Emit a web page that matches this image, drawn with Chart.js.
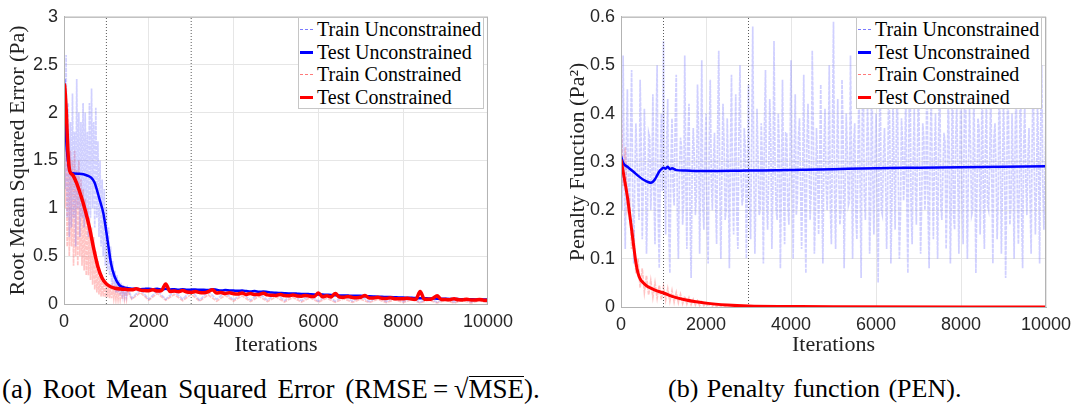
<!DOCTYPE html>
<html>
<head>
<meta charset="utf-8">
<script src="https://cdn.jsdelivr.net/npm/chart.js@4.4.1/dist/chart.umd.min.js"></script>
<style>
    body { margin: 0; background: #fff; width: 1080px; height: 414px; position: relative; overflow: hidden;
           font-family: "Liberation Serif", "DejaVu Serif", serif; color: #000; }
    canvas { position: absolute; top: 0; }
    #rmse_chart { left: 0; }
    #pen_chart { left: 540px; }
    .legend { position: absolute; top: 17px; width: 186px; box-sizing: border-box; border: 1px solid #c6c6c6;
              background: #fff; font-size: 20px; }
    .legend div { position: relative; height: 22.5px; line-height: 22.5px; padding-left: 18px; white-space: nowrap; }
    .legend i { position: absolute; left: 1px; width: 13px; }
    .legend i.train { top: 11px; border-top: 1px dashed; }
    .legend i.test { top: 10px; border-top: 3px solid; }
    .caption { position: absolute; top: 376px; font-size: 26px; line-height: 26px; white-space: nowrap; word-spacing: 2px; }
    .root { border-top: 1px solid #000; display: inline-block; line-height: 22px; padding-top: 1px; }
</style>
</head>
<body>
<canvas id="rmse_chart" width="520" height="360"></canvas>
<canvas id="pen_chart" width="540" height="360"></canvas>

<div class="legend" style="left: 298px">
    <div><i class="train" style="border-color: #7a7aff"></i>Train Unconstrained</div>
    <div><i class="test" style="border-color: #0000ff"></i>Test Unconstrained</div>
    <div><i class="train" style="border-color: #ff7a7a"></i>Train Constrained</div>
    <div><i class="test" style="border-color: #ff0000"></i>Test Constrained</div>
</div>
<div class="legend" style="left: 856px">
    <div><i class="train" style="border-color: #7a7aff"></i>Train Unconstrained</div>
    <div><i class="test" style="border-color: #0000ff"></i>Test Unconstrained</div>
    <div><i class="train" style="border-color: #ff7a7a"></i>Train Constrained</div>
    <div><i class="test" style="border-color: #ff0000"></i>Test Constrained</div>
</div>

<div class="caption" style="left: 2px; font-size: 27px; word-spacing: 4px">(a) Root Mean Squared Error (RMSE&#8201;=&#8201;√<span class="root">MSE</span>).</div>
<div class="caption" style="left: 668px">(b) Penalty function (PEN).</div>

<script>
// shared axis ticks
const iterTicks = [0, 2000, 4000, 6000, 8000, 10000];
const markerIters = [1000, 3000];
const rmseYTicks = [0, 0.5, 1, 1.5, 2, 2.5, 3];
const penYTicks = [0, 0.1, 0.2, 0.3, 0.4, 0.5, 0.6];

// (a) RMSE - train curves, every 25 iterations up to 1500 then every 200 from 1600
const rmseTrainUnconEarly = [
    2.9, 1.2, 2.6, 0.9, 2.1, 0.7, 1.9, 0.8, 2.2, 0.9, 1.8, 0.6, 2.35, 1.0, 2.0, 0.7, 1.9, 0.9, 2.1, 0.8,
    2.0, 1.0, 1.8, 0.7, 2.1, 0.9, 2.25, 1.0, 1.9, 0.8, 2.05, 0.9, 1.7, 0.7, 1.5, 0.6, 1.3, 0.5, 1.2, 0.4,
    1.0, 0.35, 0.8, 0.3, 0.6, 0.2, 0.45, 0.15, 0.35, 0.12, 0.3, 0.12, 0.25, 0.1, 0.22, 0.1, 0.2, 0.09, 0.18, 0.09,
    0.17,
];
const rmseTrainUnconLate = [
    0.06, 0.15, 0.05, 0.14, 0.05, 0.13, 0.05, 0.14, 0.04, 0.13, 0.05, 0.12, 0.04, 0.12, 0.04, 0.11, 0.04, 0.11, 0.035, 0.1,
    0.035, 0.095, 0.03, 0.09, 0.03, 0.085, 0.03, 0.08, 0.025, 0.075, 0.025, 0.07, 0.025, 0.065, 0.02, 0.06, 0.02, 0.06, 0.02, 0.055,
    0.02, 0.05, 0.02,
];
const rmseTrainConEarly = [
    2.4, 1.0, 1.9, 0.6, 1.7, 0.5, 1.6, 0.6, 1.5, 0.4, 1.6, 0.5, 1.4, 0.4, 1.5, 0.5, 1.3, 0.4, 1.2, 0.35,
    1.1, 0.3, 1.0, 0.3, 0.9, 0.25, 0.8, 0.2, 0.7, 0.15, 0.55, 0.12, 0.45, 0.1, 0.35, 0.08, 0.3, 0.08, 0.25, 0.07,
    0.22, 0.07, 0.2, 0.06, 0.18, 0.06, 0.17, 0.06, 0.16, 0.05, 0.15, 0.05, 0.15, 0.05, 0.14, 0.05, 0.14, 0.05, 0.13, 0.05,
    0.13,
];
const rmseTrainConLate = [
    0.05, 0.12, 0.04, 0.11, 0.04, 0.1, 0.035, 0.1, 0.03, 0.095, 0.03, 0.09, 0.03, 0.085, 0.025, 0.08, 0.025, 0.075, 0.02, 0.07,
    0.02, 0.065, 0.02, 0.06, 0.018, 0.055, 0.018, 0.05, 0.015, 0.05, 0.015, 0.045, 0.015, 0.045, 0.012, 0.04, 0.012, 0.04, 0.01, 0.038,
    0.01, 0.035, 0.01,
];

// (a) RMSE - test curves, knots up to 1400 then every 100 from 1500
const rmseTestUnconIters = [0, 16, 55, 110, 170, 370, 560, 640, 720, 834, 927, 1030, 1110, 1190, 1300, 1400];
const rmseTestUnconHead = [2.35, 2.1, 1.69, 1.44, 1.37, 1.36, 1.34, 1.32, 1.27, 1.1, 0.95, 0.66, 0.42, 0.29, 0.2, 0.175];
const rmseTestUnconTail = [
    0.165, 0.16, 0.16, 0.155, 0.158, 0.16,
    0.155, 0.16, 0.15, 0.158, 0.152, 0.155, 0.15, 0.155, 0.148, 0.15,
    0.152, 0.148, 0.15, 0.145, 0.155, 0.148, 0.14, 0.145, 0.142, 0.14,
    0.138, 0.14, 0.135, 0.13, 0.135, 0.128, 0.13, 0.125, 0.12, 0.118,
    0.115, 0.112, 0.11, 0.11, 0.108, 0.105, 0.105, 0.102, 0.1, 0.1,
    0.098, 0.096, 0.095, 0.092, 0.09, 0.09, 0.088, 0.086, 0.085, 0.085,
    0.082, 0.08, 0.078, 0.076, 0.075, 0.073, 0.072, 0.07, 0.068, 0.067,
    0.065, 0.064, 0.062, 0.061, 0.06, 0.058, 0.057, 0.056, 0.055, 0.054,
    0.053, 0.052, 0.051, 0.05, 0.05, 0.049, 0.048, 0.048, 0.047, 0.047,
];
const rmseTestConIters = [0, 15, 55, 95, 135, 200, 300, 400, 500, 600, 700, 800, 900, 1000, 1100, 1200, 1400];
const rmseTestConHead = [2.3, 2.28, 2.0, 1.58, 1.39, 1.35, 1.26, 1.13, 0.98, 0.8, 0.58, 0.39, 0.27, 0.21, 0.18, 0.165, 0.155];
const rmseTestConTail = [
    0.15, 0.148, 0.16, 0.145, 0.14, 0.138, 0.15, 0.135, 0.14, 0.21, 0.13, 0.135, 0.128, 0.14, 0.125, 0.122,
    0.13, 0.12, 0.118, 0.128, 0.15, 0.115, 0.12, 0.11, 0.118, 0.108,
    0.105, 0.115, 0.1, 0.11, 0.098, 0.1, 0.112, 0.095, 0.092, 0.09,
    0.1, 0.088, 0.085, 0.095, 0.083, 0.082, 0.09, 0.08, 0.078, 0.115,
    0.076, 0.085, 0.074, 0.11, 0.072, 0.07, 0.078, 0.068, 0.066, 0.07,
    0.09, 0.063, 0.062, 0.07, 0.06, 0.058, 0.065, 0.056, 0.055, 0.054,
    0.06, 0.052, 0.05, 0.13, 0.05, 0.049, 0.06, 0.085, 0.047, 0.046,
    0.045, 0.055, 0.044, 0.043, 0.05, 0.042, 0.041, 0.048, 0.04, 0.04,
];

// (b) PEN - train unconstrained, every 50 iterations, plus the samples in between
const penTrainUncon = [
    0.31, 0.52, 0.12, 0.45, 0.18, 0.49, 0.09, 0.38, 0.22, 0.47, 0.14, 0.41, 0.11, 0.36, 0.2, 0.44, 0.13, 0.5, 0.08, 0.4,
    0.55, 0.15, 0.43, 0.07, 0.39, 0.21, 0.48, 0.1, 0.35, 0.17, 0.52, 0.12, 0.42, 0.06, 0.37, 0.19, 0.46, 0.11, 0.51, 0.16,
    0.4, 0.09, 0.47, 0.2, 0.36, 0.13, 0.53, 0.1, 0.42, 0.18, 0.39, 0.08, 0.48, 0.15, 0.44, 0.12, 0.5, 0.21, 0.37, 0.1,
    0.46, 0.14, 0.58, 0.11, 0.41, 0.19, 0.38, 0.09, 0.49, 0.16, 0.43, 0.12, 0.55, 0.2, 0.4, 0.08, 0.47, 0.13, 0.36, 0.17,
    0.51, 0.1, 0.44, 0.22, 0.39, 0.12, 0.48, 0.07, 0.42, 0.18, 0.53, 0.11, 0.37, 0.15, 0.46, 0.09, 0.41, 0.2, 0.5, 0.13,
    0.59, 0.12, 0.43, 0.17, 0.47, 0.08, 0.4, 0.21, 0.52, 0.1, 0.38, 0.14, 0.45, 0.06, 0.49, 0.18, 0.42, 0.11, 0.54, 0.15,
    0.4, 0.05, 0.46, 0.19, 0.37, 0.12, 0.5, 0.09, 0.43, 0.16, 0.48, 0.1, 0.39, 0.22, 0.45, 0.07, 0.52, 0.13, 0.41, 0.17,
    0.47, 0.11, 0.38, 0.2, 0.51, 0.08, 0.44, 0.14, 0.4, 0.1, 0.49, 0.18, 0.36, 0.12, 0.46, 0.09, 0.53, 0.16, 0.42, 0.11,
    0.48, 0.13, 0.57, 0.1, 0.41, 0.19, 0.45, 0.07, 0.39, 0.15, 0.5, 0.12, 0.43, 0.2, 0.47, 0.09, 0.38, 0.14, 0.52, 0.11,
    0.44, 0.06, 0.49, 0.17, 0.4, 0.1, 0.46, 0.13, 0.54, 0.08, 0.42, 0.19, 0.37, 0.11, 0.48, 0.15, 0.43, 0.09, 0.5, 0.16,
    0.4,
];
const penTrainUnconMid = [
    0.2, 0.28, 0.33, 0.24, 0.36, 0.22, 0.27, 0.31, 0.18, 0.34, 0.25, 0.29, 0.21, 0.35, 0.26, 0.23, 0.37, 0.19, 0.3, 0.24,
    0.27, 0.34, 0.16, 0.3, 0.25, 0.38, 0.2, 0.28, 0.33, 0.22, 0.26, 0.35, 0.19, 0.29, 0.31, 0.23, 0.36, 0.27, 0.21, 0.32,
    0.18, 0.33, 0.26, 0.3, 0.22, 0.37, 0.24, 0.29, 0.34, 0.2, 0.28, 0.32, 0.25, 0.31, 0.19, 0.36, 0.27, 0.23, 0.33, 0.26,
    0.21, 0.35, 0.28, 0.24, 0.31, 0.2, 0.3, 0.37, 0.22, 0.27, 0.34, 0.25, 0.29, 0.18, 0.33, 0.26, 0.24, 0.36, 0.21, 0.3,
    0.28, 0.32, 0.19, 0.35, 0.25, 0.27, 0.22, 0.34, 0.3, 0.24, 0.37, 0.2, 0.29, 0.31, 0.23, 0.33, 0.26, 0.28, 0.21, 0.35,
    0.24, 0.3, 0.27, 0.2, 0.36, 0.25, 0.32, 0.22, 0.29, 0.34, 0.19, 0.31, 0.26, 0.38, 0.23, 0.28, 0.33, 0.21, 0.27, 0.3,
    0.25, 0.35, 0.2, 0.31, 0.27, 0.24, 0.36, 0.22, 0.29, 0.33, 0.26, 0.19, 0.34, 0.28, 0.23, 0.37, 0.21, 0.3, 0.25, 0.32,
    0.29, 0.22, 0.35, 0.26, 0.2, 0.33, 0.27, 0.31, 0.24, 0.36, 0.21, 0.28, 0.34, 0.23, 0.3, 0.25, 0.19, 0.35, 0.27, 0.32,
    0.22, 0.36, 0.26, 0.29, 0.33, 0.2, 0.31, 0.24, 0.37, 0.27, 0.23, 0.34, 0.21, 0.3, 0.26, 0.35, 0.28, 0.22, 0.32, 0.25,
    0.3, 0.24, 0.34, 0.21, 0.29, 0.36, 0.23, 0.27, 0.2, 0.33, 0.26, 0.31, 0.22, 0.35, 0.28, 0.24, 0.3, 0.37, 0.25, 0.27,
];
// (b) PEN - train constrained, every 50 iterations up to 2500
const penTrainCon = [
    0.42, 0.25, 0.33, 0.2, 0.22, 0.12, 0.16, 0.07, 0.1, 0.04, 0.08, 0.03, 0.065, 0.025, 0.055, 0.02, 0.05, 0.018, 0.045, 0.015,
    0.042, 0.014, 0.038, 0.012, 0.034, 0.01, 0.03, 0.009, 0.026, 0.007, 0.022, 0.006, 0.019, 0.005, 0.016, 0.004, 0.013, 0.003, 0.011, 0.003,
    0.009, 0.002, 0.007, 0.002, 0.006, 0.001, 0.005, 0.001, 0.004, 0.001, 0.003,
];
const penTestUnconIters = [0, 50, 150, 300, 450, 550, 650, 700, 750, 800, 850, 900, 950, 1000, 1050, 1100, 1150, 1200,
    1300, 1500, 2000, 3000, 4000, 5000, 6000, 7000, 8000, 9000, 10000];
const penTestUncon = [0.312, 0.298, 0.29, 0.279, 0.268, 0.262, 0.258, 0.257, 0.259, 0.264, 0.272, 0.28, 0.285, 0.288,
    0.286, 0.29, 0.285, 0.287, 0.283, 0.282, 0.281, 0.282, 0.283, 0.285, 0.287, 0.288, 0.289, 0.29, 0.291];
const penTestConIters = [0, 50, 100, 150, 200, 250, 300, 350, 400, 450, 500, 600, 700, 800, 1000, 1200, 1500, 2000,
    2500, 3000, 4000, 5000, 10000];
const penTestCon = [0.305, 0.28, 0.255, 0.228, 0.195, 0.16, 0.125, 0.092, 0.07, 0.058, 0.052, 0.044, 0.039, 0.035,
    0.029, 0.022, 0.015, 0.008, 0.004, 0.002, 0.001, 0.0003, 0];

const BLUE = "#0000ff";
const RED = "#ff0000";
const BLUE_NOISE = "rgba(110, 110, 255, 0.32)";
const RED_NOISE = "rgba(255, 100, 100, 0.38)";
const TICK_FONT = { family: "'Liberation Sans', Arial, sans-serif", size: 18 };
const TITLE_FONT = { family: "'Liberation Serif', 'DejaVu Serif', serif", size: 22 };

function stepped(start, step, values) {
    return values.map((y, i) => ({ x: start + i * step, y }));
}

function paired(iters, values) {
    return iters.map((x, i) => ({ x, y: values[i] }));
}

// merge the 50-step samples with the ones half a step later
function interleave(main, mid, step) {
    const out = [];
    main.forEach((y, i) => {
        out.push({ x: i * step, y });
        if (i < mid.length) {
            out.push({ x: i * step + step / 2, y: mid[i] });
        }
    });
    return out;
}

function markerSets(yTicks) {
    const yTop = yTicks[yTicks.length - 1];
    return markerIters.map((it) => ({
        data: [{ x: it, y: yTicks[0] }, { x: it, y: yTop }],
        borderColor: "#5a5a5a",
        borderWidth: 1,
        borderDash: [1, 2],
        order: 2,
    }));
}

function noise(data, color) {
    return { data, borderColor: color, borderWidth: 1.7, borderDash: [4, 1], order: 4 };
}

function curve(data, color, width, order) {
    return { data, borderColor: color, borderWidth: width, cubicInterpolationMode: "monotone", order };
}

// draws the full axes box like matlab's "box on"
const axesBox = {
    id: "axesBox",
    afterDatasetsDraw(chart) {
        const { ctx, chartArea } = chart;
        ctx.save();
        ctx.strokeStyle = "#b3b3b3";
        ctx.lineWidth = 1;
        ctx.strokeRect(chartArea.left + 0.5, chartArea.top + 0.5,
            chartArea.right - chartArea.left - 1, chartArea.bottom - chartArea.top);
        ctx.restore();
    },
};

function makeChart(canvasId, datasets, cfg) {
    const ctx = document.getElementById(canvasId).getContext("2d");
    return new Chart(ctx, {
        type: "line",
        data: { datasets },
        plugins: [axesBox],
        options: {
            responsive: false,
            animation: false,
            devicePixelRatio: 1,
            layout: { padding: { left: 0, right: cfg.padRight, top: 12, bottom: 0 } },
            elements: { point: { radius: 0 }, line: { tension: 0, borderCapStyle: "butt" } },
            plugins: { legend: { display: false }, tooltip: { enabled: false } },
            scales: {
                x: {
                    type: "linear",
                    min: iterTicks[0],
                    max: iterTicks[iterTicks.length - 1],
                    afterBuildTicks: (s) => { s.ticks = iterTicks.map((v) => ({ value: v })); },
                    afterFit: (s) => { s.height = cfg.xHeight; },
                    ticks: { font: TICK_FONT, color: "#262626", padding: 7, maxRotation: 0,
                             callback: (v) => String(v) },
                    grid: { color: "#e6e6e6", drawTicks: false },
                    border: { color: "#b3b3b3" },
                    title: { display: true, text: "Iterations", font: TITLE_FONT, color: "#222",
                             padding: { top: 0, bottom: 2 } },
                },
                y: {
                    min: cfg.yTicks[0],
                    max: cfg.yTicks[cfg.yTicks.length - 1],
                    afterBuildTicks: (s) => { s.ticks = cfg.yTicks.map((v) => ({ value: v })); },
                    afterFit: (s) => { s.width = cfg.yWidth; },
                    ticks: { font: TICK_FONT, color: "#262626", padding: 6, callback: (v) => String(v) },
                    grid: { color: "#e6e6e6", drawTicks: false },
                    border: { color: "#b3b3b3" },
                    title: { display: true, text: cfg.yTitle, font: TITLE_FONT, color: "#222",
                             padding: { top: cfg.titlePad, bottom: 0 } },
                },
            },
        },
    });
}

makeChart("rmse_chart", [
    noise([...stepped(0, 25, rmseTrainUnconEarly), ...stepped(1600, 200, rmseTrainUnconLate)], BLUE_NOISE),
    noise([...stepped(0, 25, rmseTrainConEarly), ...stepped(1600, 200, rmseTrainConLate)], RED_NOISE),
    ...markerSets(rmseYTicks),
    curve([...paired(rmseTestUnconIters, rmseTestUnconHead), ...stepped(1500, 100, rmseTestUnconTail)], BLUE, 2.5, 1),
    curve([...paired(rmseTestConIters, rmseTestConHead), ...stepped(1500, 100, rmseTestConTail)], RED, 3.5, 0),
], {
    yTicks: rmseYTicks,
    yTitle: "Root Mean Squared Error (Pa)",
    yWidth: 64,
    xHeight: 56,
    padRight: 28,
    titlePad: 5,
});

makeChart("pen_chart", [
    noise(interleave(penTrainUncon, penTrainUnconMid, 50), BLUE_NOISE),
    noise(stepped(0, 50, penTrainCon), RED_NOISE),
    ...markerSets(penYTicks),
    curve(paired(penTestUnconIters, penTestUncon), BLUE, 2.5, 1),
    curve(paired(penTestConIters, penTestCon), RED, 3, 0),
], {
    yTicks: penYTicks,
    yTitle: "Penalty Function (Pa²)",
    yWidth: 81,
    xHeight: 53,
    padRight: 34,
    titlePad: 25,
});
</script>
</body>
</html>
